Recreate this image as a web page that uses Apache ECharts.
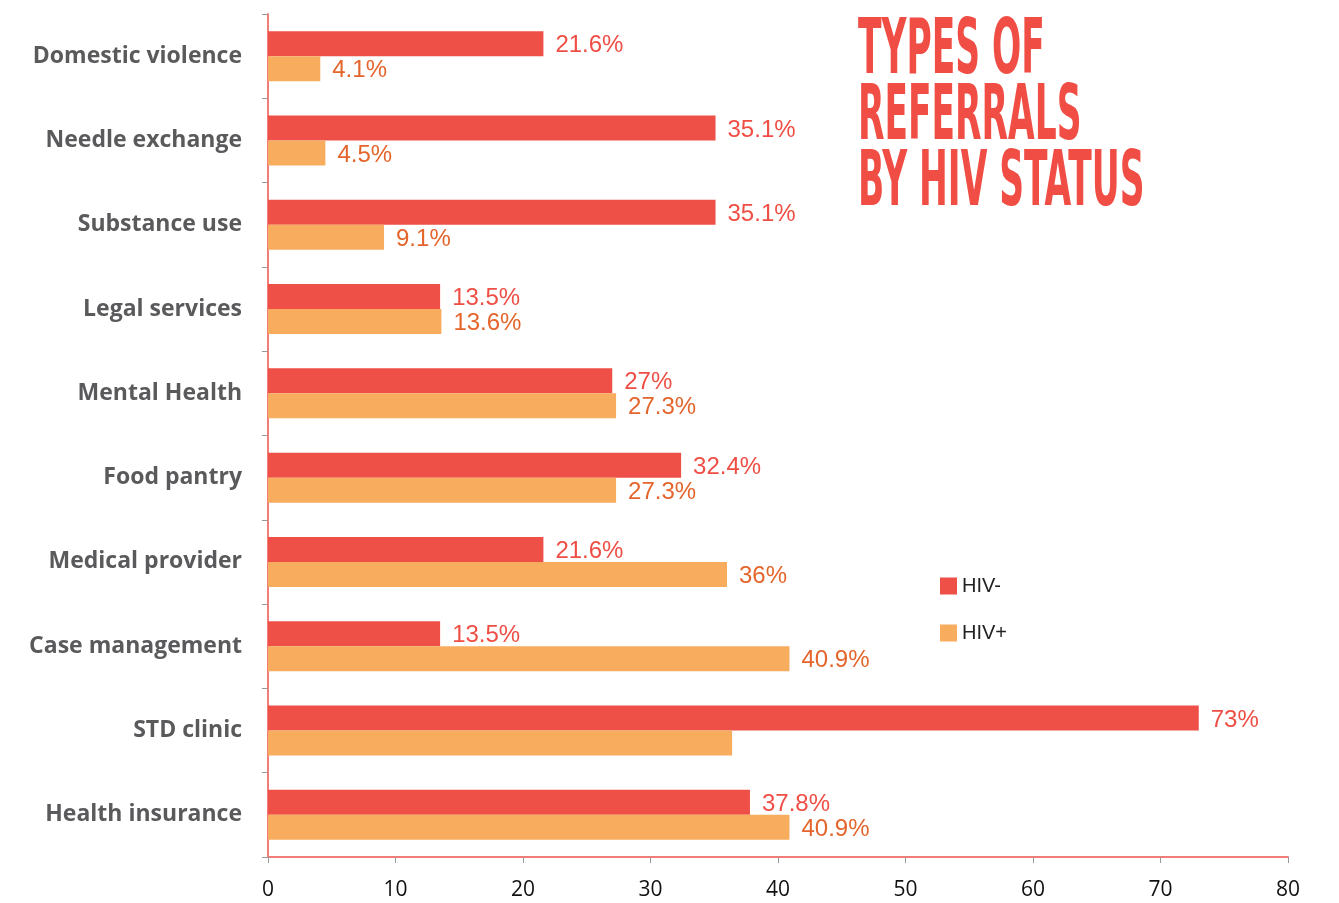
<!DOCTYPE html>
<html>
<head>
<meta charset="utf-8" />
<script src="https://cdn.jsdelivr.net/npm/echarts@6/dist/echarts.min.js"></script>
<style>
  html, body { margin: 0; padding: 0; background: #fff; }
  #chart { width: 1339px; height: 903px; }
</style>
</head>
<body>
<div id="chart"></div>
<script>
// referral types, top to bottom
const categories = [
  'Domestic violence', 'Needle exchange', 'Substance use', 'Legal services',
  'Mental Health', 'Food pantry', 'Medical provider', 'Case management',
  'STD clinic', 'Health insurance'
];
const hivNegative = [21.6, 35.1, 35.1, 13.5, 27, 32.4, 21.6, 13.5, 73, 37.8];
const hivPositive = [4.1, 4.5, 9.1, 13.6, 27.3, 27.3, 36, 40.9, 36.4, 40.9];
// the reference prints no label on this one bar
const unlabeledPositive = ['STD clinic'];
const xTicks = { min: 0, max: 80, step: 10 };

const RED = '#EE4F46';
const ORANGE = '#F8AC5E';
const AXIS_RED = '#F27D78';

const chart = echarts.init(document.getElementById('chart'));

const positiveData = hivPositive.map((v, i) =>
  unlabeledPositive.includes(categories[i]) ? { value: v, label: { show: false } } : v
);

const valueLabel = (color) => ({
  show: true,
  position: 'right',
  distance: 12,
  offset: [0, 2],
  formatter: '{c}%',
  color,
  fontSize: 24,
  fontFamily: '"Liberation Sans", Arial, sans-serif'
});

chart.setOption({
  animation: false,
  backgroundColor: '#fff',
  grid: { left: 268, right: 51, top: 14, bottom: 46, containLabel: false },
  legend: {
    orient: 'vertical',
    left: 935,
    top: 571,
    itemWidth: 17,
    itemHeight: 17,
    itemGap: 27,
    icon: 'rect',
    textStyle: { fontSize: 20, color: '#222', fontFamily: '"Liberation Sans", Arial, sans-serif' },
    data: ['HIV-', 'HIV+']
  },
  xAxis: {
    type: 'value',
    min: xTicks.min,
    max: xTicks.max,
    interval: xTicks.step,
    axisLine: { show: true, lineStyle: { color: AXIS_RED, width: 2 } },
    axisTick: { show: true, length: 6, lineStyle: { color: '#999' } },
    splitLine: { show: false },
    axisLabel: { fontSize: 21, color: '#111', margin: 23, fontFamily: '"Open Sans", sans-serif' }
  },
  yAxis: {
    type: 'category',
    inverse: true,
    data: categories,
    axisLine: { show: true, lineStyle: { color: AXIS_RED, width: 2 } },
    axisTick: { show: true, length: 6, lineStyle: { color: '#999' } },
    axisLabel: {
      fontSize: 23, fontWeight: 'bold', color: '#5a5a5c', margin: 26,
      fontFamily: '"Open Sans", sans-serif'
    }
  },
  graphic: [{
    type: 'text',
    x: 858,
    y: 20,
    scaleX: 0.497,
    style: {
      text: 'TYPES OF\nREFERRALS\nBY HIV STATUS',
      fill: '#F04E45',
      font: 'bold 77px "Liberation Sans Narrow", "DejaVu Sans Condensed", sans-serif',
      lineHeight: 66
    }
  }],
  series: [
    {
      name: 'HIV-',
      type: 'bar',
      data: hivNegative,
      barWidth: 25,
      barGap: '0%',
      itemStyle: { color: RED },
      label: valueLabel('#EF4E45')
    },
    {
      name: 'HIV+',
      type: 'bar',
      data: positiveData,
      barWidth: 25,
      itemStyle: { color: ORANGE },
      label: valueLabel('#E4652C')
    }
  ]
});
</script>
</body>
</html>
